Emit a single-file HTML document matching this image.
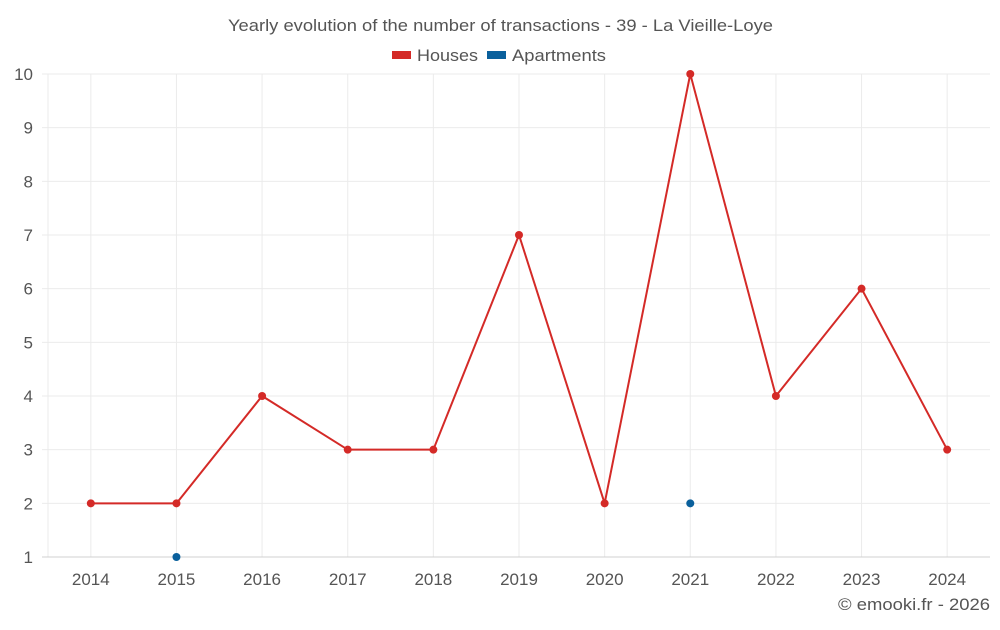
<!DOCTYPE html>
<html><head><meta charset="utf-8"><style>
body{margin:0;background:#fff;font-family:"Liberation Sans",sans-serif;}
svg text{font-family:"Liberation Sans",sans-serif;fill:#555;}
</style></head><body>
<svg id="chart" width="1000" height="625">
<text x="228" y="31" font-size="17" textLength="545" lengthAdjust="spacingAndGlyphs">Yearly evolution of the number of transactions - 39 - La Vieille-Loye</text>
<g>
<rect x="392" y="51" width="19" height="8" fill="#d42a27"/>
<text x="417" y="61" font-size="17" textLength="61" lengthAdjust="spacingAndGlyphs">Houses</text>
<rect x="487" y="51" width="19" height="8" fill="#0a609c"/>
<text x="512" y="61" font-size="17" textLength="94" lengthAdjust="spacingAndGlyphs">Apartments</text>
</g>
<g id="grid"></g><g id="marks"></g>
<text x="838" y="610" font-size="17" textLength="152" lengthAdjust="spacingAndGlyphs">© emooki.fr - 2026</text>
</svg>
<script>
const categories=["2014","2015","2016","2017","2018","2019","2020","2021","2022","2023","2024"];
const houses=[2,2,4,3,3,7,2,10,4,6,3];
const apartments=[null,1,null,null,null,null,null,2,null,null,null];
const yTicks=[1,2,3,4,5,6,7,8,9,10];
const L=48,R=990,T=74,B=557,yMin=1,yMax=10;
const bw=(R-L)/categories.length;
const xS=i=>L+bw*(i+0.5);
const yS=v=>B-(v-yMin)/(yMax-yMin)*(B-T);
const NS="http://www.w3.org/2000/svg";
const g=document.getElementById('grid'),m=document.getElementById('marks');
function mk(tag,attrs,parent){const e=document.createElementNS(NS,tag);for(const k in attrs)e.setAttribute(k,attrs[k]);parent.appendChild(e);return e;}
const ax=mk('line',{x1:L,x2:L,y1:T,y2:B,stroke:'#ebebeb'},g);


categories.forEach((c,i)=>{
 const ln=mk('line',{x1:xS(i),x2:xS(i),y1:T,y2:B,stroke:'#ebebeb'},g);
 
 
 const t=mk('text',{x:xS(i),y:585,'text-anchor':'middle','font-size':17},g);t.textContent=c;
 
 
});
yTicks.forEach(v=>{
 const ln=mk('line',{x1:L-6,x2:R,y1:yS(v),y2:yS(v),stroke:v===yMin?'#d0d0d0':'#ebebeb'},g);
 
 
 const t=mk('text',{x:33,y:yS(v)+6,'text-anchor':'end','font-size':17},g);t.textContent=v;
 
 
});
const pl=mk('polyline',{points:houses.map((v,i)=>xS(i)+','+yS(v)).join(' '),fill:'none',stroke:'#d42a27','stroke-width':2},m);


houses.forEach((v,i)=>{
 const c=mk('circle',{cx:xS(i),cy:yS(v),r:4,fill:'#d42a27'},m);
 
 
});
apartments.forEach((v,i)=>{
 if(v===null)return;
 const c=mk('circle',{cx:xS(i),cy:yS(v),r:4,fill:'#0a609c'},m);
 
 
});
</script>
</body></html>
